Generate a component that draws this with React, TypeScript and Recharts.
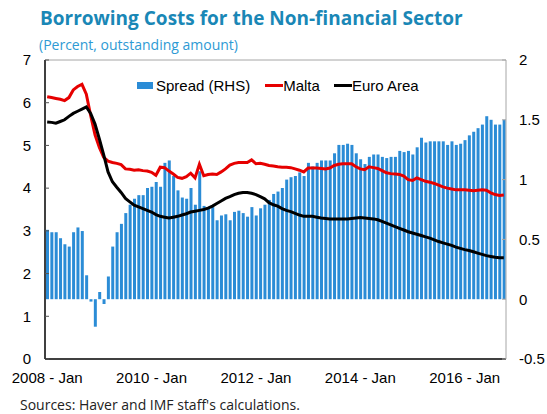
import {
  ComposedChart,
  Bar,
  Line,
  XAxis,
  YAxis,
  ReferenceLine,
} from "recharts";

// monthly categories, Jan 2008 .. Oct 2016
const monthNames = ["Jan", "Feb", "Mar", "Apr", "May", "Jun", "Jul", "Aug", "Sep", "Oct", "Nov", "Dec"];
const years = [2008, 2009, 2010, 2011, 2012, 2013, 2014, 2015, 2016];
const months: string[] = years
  .flatMap((y) => monthNames.map((m) => `${y} - ${m}`))
  .slice(0, 106);

// spread, percentage points (right axis)
const spread = [
  0.58, 0.56, 0.56, 0.51, 0.46, 0.44, 0.56, 0.6, 0.57, 0.2, -0.02, -0.23,
  0.06, -0.04, 0.19, 0.44, 0.56, 0.63, 0.72, 0.79, 0.84, 0.87, 0.87, 0.93,
  0.94, 0.98, 0.94, 1.14, 1.16, 1.03, 0.91, 0.85, 0.84, 0.93, 0.79, 1.07,
  0.78, 0.76, 0.77, 0.66, 0.7, 0.71, 0.66, 0.73, 0.74, 0.72, 0.69, 0.77,
  0.7, 0.76, 0.79, 0.83, 0.88, 0.9, 0.93, 1.0, 1.02, 1.03, 1.06, 1.03,
  1.14, 1.11, 1.14, 1.16, 1.16, 1.16, 1.22, 1.29, 1.29, 1.3, 1.29, 1.22,
  1.17, 1.13, 1.19, 1.21, 1.21, 1.19, 1.18, 1.19, 1.19, 1.24, 1.23, 1.24,
  1.21, 1.27, 1.35, 1.31, 1.32, 1.32, 1.32, 1.32, 1.29, 1.32, 1.29, 1.3,
  1.33, 1.37, 1.4, 1.43, 1.46, 1.53, 1.5, 1.46, 1.46, 1.5,
];

// Malta lending rate, percent (left axis)
const malta = [
  6.14, 6.12, 6.1, 6.08, 6.05, 6.12, 6.3, 6.38, 6.43, 6.2, 5.7, 5.25,
  4.95, 4.72, 4.63, 4.6, 4.58, 4.55, 4.45, 4.44, 4.42, 4.43, 4.41, 4.4,
  4.37, 4.3, 4.49, 4.48, 4.4, 4.33, 4.25, 4.23, 4.27, 4.35, 4.24, 4.56,
  4.29, 4.32, 4.33, 4.32, 4.38, 4.45, 4.54, 4.58, 4.6, 4.6, 4.6, 4.66,
  4.57, 4.58, 4.56, 4.53, 4.52, 4.5, 4.49, 4.49, 4.48, 4.45, 4.42, 4.38,
  4.47, 4.47, 4.47, 4.46, 4.45, 4.47, 4.53, 4.56, 4.57, 4.57, 4.57, 4.5,
  4.45, 4.43, 4.5, 4.48, 4.46, 4.41, 4.36, 4.34, 4.33, 4.32, 4.28, 4.2,
  4.18, 4.24, 4.2, 4.16, 4.14, 4.11, 4.07, 4.03, 4.0, 3.98, 3.96, 3.96,
  3.96, 3.95, 3.94, 3.95, 3.96, 3.95, 3.89, 3.85, 3.83, 3.84,
];

// Euro Area lending rate, percent (left axis)
const euroArea = [
  5.55, 5.54, 5.52, 5.56, 5.6, 5.68, 5.75, 5.8, 5.85, 5.9, 5.75, 5.5,
  5.15, 4.78, 4.38, 4.15, 4.02, 3.9, 3.76, 3.68, 3.6, 3.56, 3.52, 3.48,
  3.44, 3.38, 3.34, 3.32, 3.3, 3.32, 3.34, 3.37, 3.4, 3.44, 3.46, 3.48,
  3.5, 3.53, 3.58, 3.64, 3.7, 3.76, 3.8, 3.85, 3.88, 3.9, 3.9, 3.88,
  3.85, 3.8, 3.75, 3.66, 3.61, 3.58, 3.52, 3.48, 3.45, 3.41, 3.37, 3.34,
  3.34, 3.34, 3.32, 3.3, 3.29, 3.28, 3.28, 3.28, 3.28, 3.28, 3.29, 3.3,
  3.31, 3.3, 3.29, 3.28, 3.26, 3.22, 3.18, 3.14, 3.1, 3.06, 3.02, 2.98,
  2.95, 2.92, 2.89, 2.86, 2.83, 2.79, 2.75, 2.72, 2.69, 2.66, 2.62, 2.59,
  2.56, 2.54, 2.51, 2.48, 2.45, 2.42, 2.4, 2.38, 2.37, 2.37,
];

const leftTicks = [0, 1, 2, 3, 4, 5, 6, 7];
const rightTicks = [-0.5, 0, 0.5, 1, 1.5, 2];

const data = months.map((m, i) => ({
  m,
  spread: spread[i],
  malta: malta[i],
  euro: euroArea[i],
}));

const BLUE = "#2b8cd6";
const RED = "#e60000";
const axisFont = { fontFamily: "'Liberation Sans', Arial, sans-serif", fontSize: 15, fill: "#000" };

export default function App() {
  return (
    <div
      style={{
        position: "absolute",
        left: 0,
        top: 0,
        width: 547,
        height: 414,
        background: "#fff",
        fontFamily: "'Liberation Sans', Arial, sans-serif",
      }}
    >
      <div
        style={{
          position: "absolute",
          left: 40,
          top: 5,
          fontFamily: "'Open Sans', sans-serif",
          fontWeight: 700,
          fontSize: 19,
          color: "#1a87b6",
          whiteSpace: "nowrap",
        }}
      >
        Borrowing Costs for the Non-financial Sector
      </div>
      <div
        style={{
          position: "absolute",
          left: 39,
          top: 35,
          fontFamily: "'Open Sans', sans-serif",
          fontSize: 14,
          color: "#2e9ad4",
          whiteSpace: "nowrap",
        }}
      >
        (Percent, outstanding amount)
      </div>

      <ComposedChart
        width={547}
        height={414}
        data={data}
        margin={{ top: 60, right: 0, bottom: 25, left: 0 }}
        barSize={3}
      >
        <XAxis
          dataKey="m"
          interval={23}
          tickLine={false}
          tickSize={0}
          tickMargin={13}
          height={30}
          axisLine={{ stroke: "#000", strokeWidth: 1.5 }}
          tick={axisFont}
        />
        <YAxis
          yAxisId="left"
          domain={[0, 7]}
          ticks={leftTicks}
          width={45}
          tickSize={-4}
          tickMargin={18}
          axisLine={{ stroke: "#000", strokeWidth: 1.5 }}
          tickLine={{ stroke: "#555" }}
          tick={axisFont}
        />
        <YAxis
          yAxisId="right"
          orientation="right"
          domain={[-0.5, 2]}
          ticks={rightTicks}
          width={41}
          tickSize={-4}
          tickMargin={17}
          axisLine={{ stroke: "#a6a6a6" }}
          tickLine={{ stroke: "#a6a6a6" }}
          tick={{ ...axisFont, textAnchor: "start" }}
        />
        <ReferenceLine yAxisId="left" y={7} stroke="#a6a6a6" />
        <Bar yAxisId="right" dataKey="spread" fill={BLUE} isAnimationActive={false} />
        <Line
          yAxisId="left"
          dataKey="malta"
          type="linear"
          stroke={RED}
          strokeWidth={3}
          dot={false}
          isAnimationActive={false}
        />
        <Line
          yAxisId="left"
          dataKey="euro"
          type="linear"
          stroke="#000"
          strokeWidth={3}
          dot={false}
          isAnimationActive={false}
        />
      </ComposedChart>

      <div
        style={{
          position: "absolute",
          left: 137,
          top: 77,
          display: "flex",
          alignItems: "center",
          fontSize: 15,
          color: "#000",
          whiteSpace: "nowrap",
        }}
      >
        <span style={{ width: 16, height: 7, background: BLUE, marginRight: 3 }} />
        <span>Spread (RHS)</span>
        <span style={{ width: 18, height: 3, background: RED, marginLeft: 15 }} />
        <span>Malta</span>
        <span style={{ width: 18, height: 3, background: "#000", marginLeft: 14 }} />
        <span>Euro Area</span>
      </div>

      <div
        style={{
          position: "absolute",
          left: 20,
          top: 396,
          lineHeight: "17px",
          fontFamily: "'Open Sans', sans-serif",
          fontSize: 14,
          color: "#222",
          whiteSpace: "nowrap",
        }}
      >
        Sources: Haver and IMF staff's calculations.
      </div>
    </div>
  );
}
